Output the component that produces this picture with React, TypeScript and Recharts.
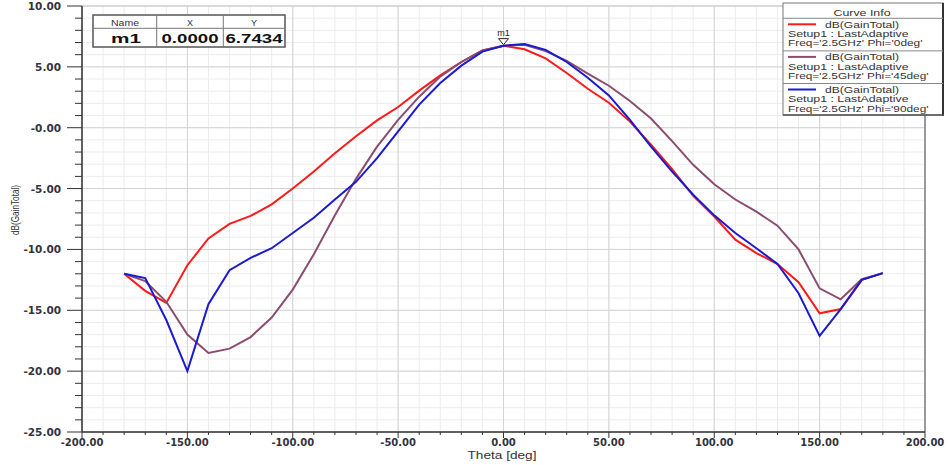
import React from "react";
import {
  LineChart,
  Line,
  XAxis,
  YAxis,
  CartesianGrid,
  ReferenceDot,
  ReferenceLine,
} from "recharts";

// Theta sweep, one sample every 10 deg
const theta = [
  -180, -170, -160, -150, -140, -130, -120, -110, -100, -90, -80, -70, -60,
  -50, -40, -30, -20, -10, 0, 10, 20, 30, 40, 50, 60, 70, 80, 90, 100, 110,
  120, 130, 140, 150, 160, 170, 180,
];

// dB(GainTotal), Phi = 0deg
const gainPhi0 = [
  -12.0, -13.4, -14.4, -11.3, -9.1, -7.9, -7.25, -6.3, -5.0, -3.6, -2.1, -0.7,
  0.6, 1.7, 3.05, 4.3, 5.4, 6.35, 6.74, 6.45, 5.7, 4.5, 3.2, 2.05, 0.5, -1.4,
  -3.4, -5.6, -7.3, -9.2, -10.3, -11.2, -12.7, -15.25, -14.9, -12.5, -11.95,
];

// dB(GainTotal), Phi = 45deg
const gainPhi45 = [
  -12.0, -12.6, -14.3, -17.0, -18.5, -18.15, -17.2, -15.6, -13.3, -10.4, -7.2,
  -4.2, -1.55, 0.65, 2.55, 4.2, 5.4, 6.35, 6.74, 6.82, 6.3, 5.5, 4.45, 3.45,
  2.2, 0.75, -1.1, -3.05, -4.65, -5.9, -6.9, -8.05, -10.0, -13.2, -14.1,
  -12.45, -11.95,
];

// dB(GainTotal), Phi = 90deg
const gainPhi90 = [
  -12.0, -12.35, -15.8, -20.0, -14.5, -11.7, -10.7, -9.9, -8.65, -7.4, -5.9,
  -4.45, -2.5, -0.3, 1.9, 3.67, 5.1, 6.25, 6.74, 6.88, 6.4, 5.4, 4.1, 2.65,
  0.65, -1.55, -3.6, -5.5, -7.2, -8.65, -9.9, -11.2, -13.6, -17.1, -14.9,
  -12.5, -11.95,
];

const xMajorTicks = [-200, -150, -100, -50, 0, 50, 100, 150, 200];
const xTickLabels = [
  "-200.00", "-150.00", "-100.00", "-50.00", "0.00", "50.00", "100.00", "150.00", "200.00",
];
const yMajorTicks = [10, 5, 0, -5, -10, -15, -20, -25];
const yTickLabels = [
  "10.00", "5.00", "-0.00", "-5.00", "-10.00", "-15.00", "-20.00", "-25.00",
];

const xMinorTicks: number[] = [];
for (let v = -200; v <= 200; v += 10) xMinorTicks.push(v);
const yMinorTicks: number[] = [];
for (let v = -25; v <= 10; v += 1) yMinorTicks.push(v);

const marker = { name: "m1", x: 0, y: 6.7434, xText: "0.0000", yText: "6.7434" };

const curves = [
  { key: "phi0", color: "#ff1a1a", freq: "Freq='2.5GHz' Phi='0deg'", freqLen: 134.5 },
  { key: "phi45", color: "#8a4d70", freq: "Freq='2.5GHz' Phi='45deg'", freqLen: 140.5 },
  { key: "phi90", color: "#1a1ad0", freq: "Freq='2.5GHz' Phi='90deg'", freqLen: 140.5 },
];

const data = theta.map((t, i) => ({
  theta: t,
  phi0: gainPhi0[i],
  phi45: gainPhi45[i],
  phi90: gainPhi90[i],
}));

const tickFont = "'DejaVu Sans', sans-serif";
const textFont = "'Liberation Sans', Arial, sans-serif";

const XTick = (props: any) => {
  const { x, y, payload } = props;
  const i = xMajorTicks.indexOf(payload.value);
  const major = i >= 0;
  return (
    <g>
      <line x1={x} x2={x} y1={y} y2={y + (major ? 6 : 3)} stroke="#333" strokeWidth={1} />
      {major && (
        <text x={x} y={y + 14} textAnchor="middle" fontSize={10} fontWeight="bold" fontFamily={tickFont} fill="#333340">
          {xTickLabels[i]}
        </text>
      )}
    </g>
  );
};

const YTick = (props: any) => {
  const { x, y, payload } = props;
  const i = yMajorTicks.indexOf(payload.value);
  const major = i >= 0;
  return (
    <g>
      <line x1={x} x2={x - (major ? 15 : 7)} y1={y} y2={y} stroke="#333" strokeWidth={1} />
      {major && (
        <text x={x - 21} y={y + 4} textAnchor="end" fontSize={10.5} fontWeight="bold" fontFamily={tickFont} fill="#333340">
          {yTickLabels[i]}
        </text>
      )}
    </g>
  );
};

const MarkerShape = (props: any) => {
  const { cx, cy } = props;
  return (
    <g>
      <path
        d={`M${cx - 5},${cy - 7} L${cx + 5},${cy - 7} L${cx},${cy - 1} Z`}
        fill="#fff"
        stroke="#222"
        strokeWidth={1}
      />
      <text x={cx} y={cy - 10} textAnchor="middle" fontSize={9} fontFamily={textFont} fill="#222">
        {marker.name}
      </text>
    </g>
  );
};

const App = () => {
  return (
    <div style={{ position: "absolute", left: 0, top: 0, width: 948, height: 465, background: "#fff" }}>
      <LineChart width={948} height={465} data={data} margin={{ top: 6, right: 23, bottom: 0, left: 0 }}>
        <CartesianGrid stroke="#ececec" />
        <CartesianGrid stroke="#d4d4d4" horizontalValues={yMajorTicks} verticalValues={xMajorTicks} />
        <XAxis
          dataKey="theta"
          type="number"
          domain={[-200, 200]}
          ticks={xMinorTicks}
          interval={0}
          height={33}
          tickSize={0}
          tickMargin={0}
          tickLine={false}
          tick={<XTick />}
          axisLine={{ stroke: "#333", strokeWidth: 1.5 }}
        />
        <YAxis
          type="number"
          domain={[-25, 10]}
          ticks={yMinorTicks}
          interval={0}
          width={82}
          tickSize={0}
          tickMargin={0}
          tickLine={false}
          tick={<YTick />}
          axisLine={{ stroke: "#333", strokeWidth: 1.5 }}
        />
        <ReferenceLine x={200} stroke="#999" strokeWidth={2} />
        <ReferenceLine y={10} stroke="#cfcfcf" />
        {curves.map((c) => (
          <Line
            key={c.key}
            type="linear"
            dataKey={c.key}
            stroke={c.color}
            strokeWidth={2}
            dot={false}
            isAnimationActive={false}
          />
        ))}
        <ReferenceDot x={marker.x} y={marker.y} shape={<MarkerShape />} />
      </LineChart>

      <svg
        width={948}
        height={465}
        style={{ position: "absolute", left: 0, top: 0, pointerEvents: "none" }}
      >
        {/* axis titles */}
        <text x={502} y={459} textAnchor="middle" fontSize={10} fontFamily={textFont} fill="#333" textLength={69} lengthAdjust="spacingAndGlyphs">
          Theta [deg]
        </text>
        <text
          x={15}
          y={214}
          transform="rotate(-90, 15, 210)"
          textAnchor="middle"
          fontSize={10.5}
          fontFamily={textFont}
          fill="#333"
          textLength={50}
          lengthAdjust="spacingAndGlyphs"
        >
          dB(GainTotal)
        </text>

        {/* marker table */}
        <rect x={93} y={15} width={192} height={32} fill="#fff" stroke="#555" strokeWidth={1.5} />
        <line x1={93} x2={285} y1={28.3} y2={28.3} stroke="#777" />
        <line x1={156.7} x2={156.7} y1={15} y2={47} stroke="#777" />
        <line x1={223.3} x2={223.3} y1={15} y2={47} stroke="#777" />
        <text x={125} y={25.5} textAnchor="middle" fontSize={9} fontFamily={textFont} fill="#333" textLength={28} lengthAdjust="spacingAndGlyphs">Name</text>
        <text x={190} y={25.5} textAnchor="middle" fontSize={9} fontFamily={textFont} fill="#333">X</text>
        <text x={254} y={25.5} textAnchor="middle" fontSize={9} fontFamily={textFont} fill="#333">Y</text>
        <text x={126} y={43} textAnchor="middle" fontSize={13} fontWeight="bold" fontFamily={textFont} fill="#111" textLength={30} lengthAdjust="spacingAndGlyphs">{marker.name}</text>
        <text x={190} y={43} textAnchor="middle" fontSize={13} fontWeight="bold" fontFamily={textFont} fill="#111" textLength={57} lengthAdjust="spacingAndGlyphs">{marker.xText}</text>
        <text x={254} y={43} textAnchor="middle" fontSize={13} fontWeight="bold" fontFamily={textFont} fill="#111" textLength={57} lengthAdjust="spacingAndGlyphs">{marker.yText}</text>

        {/* curve info legend */}
        <rect x={783} y={3} width={160} height={112} fill="#fff" stroke="#777" strokeWidth={1} />
        <line x1={943} x2={943} y1={3} y2={116} stroke="#333" strokeWidth={2} />
        <line x1={783} x2={944} y1={115} y2={115} stroke="#555" strokeWidth={1.5} />
        <text x={862} y={16} textAnchor="middle" fontSize={9.5} fontFamily={textFont} fill="#333" textLength={57} lengthAdjust="spacingAndGlyphs">Curve Info</text>
        <line x1={783} x2={943} y1={18.3} y2={18.3} stroke="#888" />
        {curves.map((c, g) => {
          const o = g * 32.6;
          return (
            <g key={c.key}>
              {g > 0 && <line x1={783} x2={943} y1={18.3 + o} y2={18.3 + o} stroke="#888" />}
              <line x1={788} x2={816} y1={24.3 + o} y2={24.3 + o} stroke={c.color} strokeWidth={2} />
              <text x={825} y={27.8 + o} fontSize={9.5} fontFamily={textFont} fill="#333" textLength={74} lengthAdjust="spacingAndGlyphs">dB(GainTotal)</text>
              <text x={788} y={37 + o} fontSize={9.5} fontFamily={textFont} fill="#333" textLength={120.5} lengthAdjust="spacingAndGlyphs">Setup1 : LastAdaptive</text>
              <text x={788} y={46.3 + o} fontSize={9.5} fontFamily={textFont} fill="#333" textLength={c.freqLen} lengthAdjust="spacingAndGlyphs">{c.freq}</text>
            </g>
          );
        })}
      </svg>
    </div>
  );
};

export default App;
